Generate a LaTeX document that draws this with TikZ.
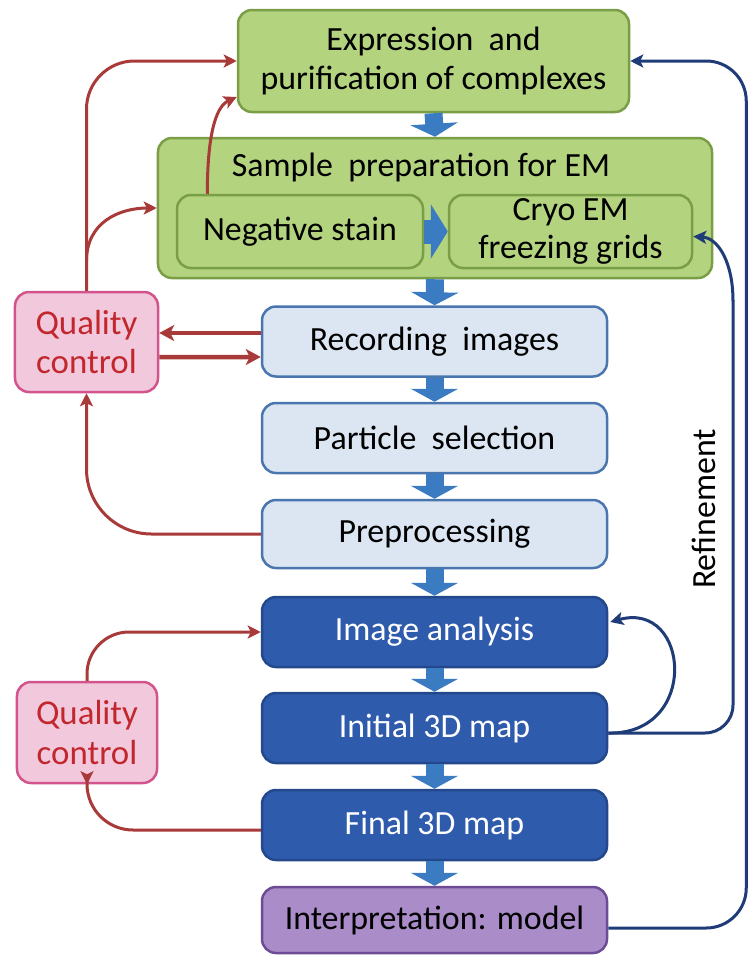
\documentclass[tikz,border=0pt]{standalone}
\usepackage{fontspec}
\setmainfont{Carlito}
\usetikzlibrary{arrows.meta,calc}
\definecolor{gfill}{HTML}{B3D37F}
\definecolor{gline}{HTML}{7A9E45}
\definecolor{lbfill}{HTML}{DCE6F2}
\definecolor{lbline}{HTML}{4A76AF}
\definecolor{dbfill}{HTML}{2F5BAC}
\definecolor{dbline}{HTML}{24488C}
\definecolor{pfill}{HTML}{A98CC8}
\definecolor{pline}{HTML}{6E4B96}
\definecolor{qfill}{HTML}{F2C8DD}
\definecolor{qline}{HTML}{D3548C}
\definecolor{qtext}{HTML}{C1272D}
\definecolor{abl}{HTML}{3B7BC2}
\definecolor{rline}{HTML}{A93A3A}
\definecolor{nline}{HTML}{1F3C78}
\begin{document}
\begin{tikzpicture}[x=1bp,y=-1bp,
  box/.style={rounded corners=14bp, line width=2.5bp, align=center, inner sep=0pt,
    font=\fontsize{34}{40}\selectfont},
  greenbox/.style={box, fill=gfill, draw=gline},
  lbbox/.style={box, fill=lbfill, draw=lbline, minimum width=345bp, minimum height=70bp},
  dbbox/.style={box, fill=dbfill, draw=dbline, text=white, minimum width=345bp, minimum height=70bp},
  qcbox/.style={box, fill=qfill, draw=qline, text=qtext, font=\fontsize{35}{40}\selectfont},
  blockarr/.style={draw=abl, line width=18bp, -{Triangle[width=47bp,length=13bp]}},
  redarr/.style={draw=rline, line width=3bp, -{Stealth[length=13bp,width=13bp,inset=3bp]}},
  redthick/.style={draw=rline, line width=4.5bp, -{Stealth[length=15bp,width=16bp,inset=4bp]}},
  bluearr/.style={draw=nline, line width=3bp, -{Stealth[length=13bp,width=13bp,inset=3bp]}},
  bluepath/.style={draw=nline, line width=3bp}
]
\useasboundingbox[fill=white] (0,0) rectangle (749,956);

% top green boxes
\node[greenbox, minimum width=391bp, minimum height=102bp] (expr) at (433.5,61)
  {Expression\ \ and\\purification of complexes};
\node[greenbox, minimum width=554bp, minimum height=140bp] (sample) at (435,208) {};
\node[font=\fontsize{34}{40}\selectfont, inner sep=0pt] (stitle) at (421,167) {Sample\ \ preparation for EM};
\node[greenbox, minimum width=246bp, minimum height=73bp] (neg) at (300,231.5) {Negative stain};
\node[greenbox, minimum width=243bp, minimum height=73bp, font=\fontsize{34}{38}\selectfont] (cryo) at (570.5,231.5)
  {Cryo EM\\freezing grids};

% middle boxes
\node[lbbox] (rec) at (434.5,341.5) {Recording\ \ images};
\node[lbbox] (part) at (434.5,438) {Particle\ \ selection};
\node[lbbox, minimum height=68bp] (pre) at (434.5,534) {Preprocessing};

% dark blue boxes
\node[dbbox] (ia) at (434.5,632) {Image analysis};
\node[dbbox] (init) at (434.5,728) {Initial 3D map};
\node[dbbox] (final) at (434.5,825) {Final 3D map};
\node[box, fill=pfill, draw=pline, minimum width=345bp, minimum height=66bp] (interp) at (434.5,920)
  {Interpretation: model};

% quality control boxes
\node[qcbox, minimum width=143bp, minimum height=100bp] (qc1) at (86.5,342) {Quality\\control};
\node[qcbox, minimum width=140bp, minimum height=101bp] (qc2) at (87,732.5) {Quality\\control};

% refinement label
\node[rotate=90, font=\fontsize{34}{40}\selectfont, inner sep=0pt] (refl) at (704,509) {Refinement};

% block arrows
\draw[blockarr] (expr.south) -- (sample.north);
\draw[blockarr, line width=24bp, -{Triangle[width=54bp,length=17bp]}] (neg.east) -- (cryo.west);
\draw[blockarr] (sample.south) -- (rec.north);
\draw[blockarr] (rec.south) -- (part.north);
\draw[blockarr] (part.south) -- (pre.north);
\draw[blockarr] (pre.south) -- (ia.north);
\draw[blockarr] (ia.south) -- (init.north);
\draw[blockarr] (init.south) -- (final.north);
\draw[blockarr] (final.south) -- (interp.north);

% red connectors
\coordinate (br1) at ($(qc1.north)+(0,-30)$);
\draw[redarr, rounded corners=48bp] (qc1.north) |- (expr.west);
\draw[redarr] (br1) .. controls ($(br1)+(0,-38)$) and ($(sample.west)+(-38,0)$) .. (sample.west);
\coordinate (negtop) at ($(neg.north west)!0.127!(neg.north east)$);
\draw[redarr] (negtop) .. controls ($(negtop)+(0,-55)$) and ($(expr.west)+(-22,46)$) .. ($(expr.west)+(0,36)$);
\draw[redthick] ($(rec.west)+(0,-8.5)$) -- ($(qc1.east)+(0,-9)$);
\draw[redthick] ($(qc1.east)+(0,15)$) -- ($(rec.west)+(0,15.5)$);
\draw[redarr, rounded corners=65bp] (pre.west) -| (qc1.south);
\draw[redarr, rounded corners=42bp] (qc2.north) |- (ia.west);
\draw[redarr, rounded corners=46bp] ($(final.west)+(0,5)$) -| (qc2.south);

% blue connectors
\draw[bluearr] ($(init.east)+(0,5)$) .. controls (700,735) and (690,600) .. ($(ia.east)+(2,-10)$);
\draw[bluepath, rounded corners=28bp] ($(init.east)+(0,5)$) -| (733,300);
\draw[bluearr] (733,301) .. controls (733,262) and (718,238) .. ($(cryo.east)+(0,5)$);
\draw[bluearr, rounded corners=40bp] ($(interp.east)+(0,8)$) -| ($(expr.east)+(116,0)$) -- (expr.east);
\end{tikzpicture}
\end{document}
